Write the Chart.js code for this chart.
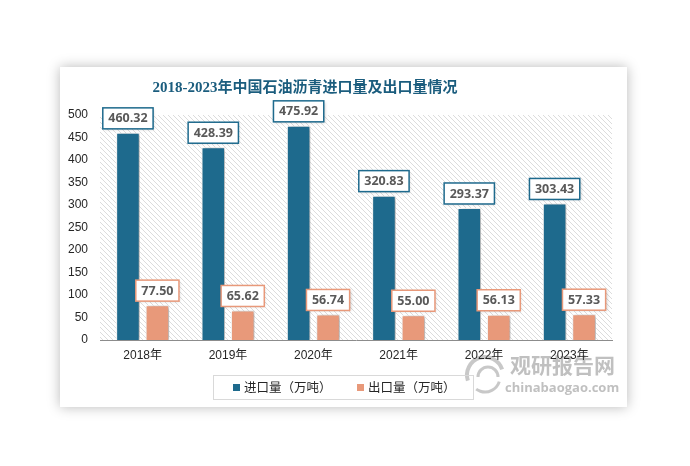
<!DOCTYPE html>
<html lang="zh">
<head>
<meta charset="UTF-8">
<title>2018-2023年中国石油沥青进口量及出口量情况</title>
<script src="https://cdn.jsdelivr.net/npm/chart.js"></script>
<style>
    html, body { margin: 0; padding: 0; background: #ffffff; }
    body { width: 690px; height: 466px; position: relative; overflow: hidden; }
    .card {
        position: absolute; left: 60px; top: 67px; width: 567px; height: 340px;
        background: #fff; box-shadow: 0 0 12px rgba(0,0,0,0.28);
    }
</style>
</head>
<body>
<div class="card"><canvas id="chart"></canvas></div>
<script>
const years = ['2018年', '2019年', '2020年', '2021年', '2022年', '2023年'];
const importVol = [460.32, 428.39, 475.92, 320.83, 293.37, 303.43];
const exportVol = [77.50, 65.62, 56.74, 55.00, 56.13, 57.33];
const seriesNames = ['进口量（万吨）', '出口量（万吨）'];
const titleText = '2018-2023年中国石油沥青进口量及出口量情况';

const blue = '#1e6a8d';
const orange = '#e8997a';

// diagonal hatch for the plot area
function hatchPattern(ctx) {
    const c = document.createElement('canvas');
    c.width = 5; c.height = 5;
    const p = c.getContext('2d');
    p.strokeStyle = '#dcdcdc';
    p.lineWidth = 1;
    p.beginPath();
    p.moveTo(-1, -1); p.lineTo(6, 6);
    p.moveTo(-1, 4); p.lineTo(1, 6);
    p.moveTo(4, -1); p.lineTo(6, 1);
    p.stroke();
    return ctx.createPattern(c, 'repeat');
}

const backdrop = {
    id: 'backdrop',
    beforeDraw(chart) {
        const { ctx, chartArea: a } = chart;
        ctx.save();
        ctx.fillStyle = hatchPattern(ctx);
        ctx.fillRect(a.left, a.top, a.right - a.left, a.bottom - a.top);

        // title
        ctx.fillStyle = '#1b5d7e';
        ctx.font = "bold 15px 'Liberation Serif', 'Noto Sans CJK SC', serif";
        ctx.textAlign = 'center';
        ctx.textBaseline = 'middle';
        ctx.fillText(titleText, 245, 21);

        // watermark
        ctx.globalAlpha = 0.55;
        ctx.fillStyle = '#8c8c8c';
        ctx.font = "bold 21px 'Noto Sans CJK SC'";
        ctx.textAlign = 'left';
        ctx.fillText('观研报告网', 450, 298);
        ctx.font = "bold 13px 'Open Sans'";
        ctx.fillText('chinabaogao.com', 445, 321);
        ctx.strokeStyle = '#9a9a9a';
        ctx.lineWidth = 4;
        ctx.beginPath(); ctx.arc(425, 308, 18, Math.PI * 0.9, Math.PI * 1.9); ctx.stroke();
        ctx.lineWidth = 3;
        ctx.beginPath(); ctx.arc(428, 310, 10, Math.PI * 1.0, Math.PI * 2.0); ctx.stroke();
        ctx.beginPath(); ctx.arc(425, 310, 15, Math.PI * 0.1, Math.PI * 0.7); ctx.stroke();
        ctx.restore();
    },
    beforeDatasetDraw(chart) {
        const ctx = chart.ctx;
        ctx.save();
        ctx.shadowColor = 'rgba(0,0,0,0.35)';
        ctx.shadowBlur = 4;
        ctx.shadowOffsetX = 2;
        ctx.shadowOffsetY = 1;
    },
    afterDatasetDraw(chart) {
        chart.ctx.restore();
    },
    afterDatasetsDraw(chart) {
        const ctx = chart.ctx;
        ctx.save();
        ctx.font = "bold 12.5px 'Open Sans', 'Liberation Sans', sans-serif";
        ctx.textAlign = 'center';
        ctx.textBaseline = 'middle';
        chart.data.datasets.forEach((ds, i) => {
            chart.getDatasetMeta(i).data.forEach((bar, j) => {
                const txt = ds.data[j].toFixed(2);
                const w = ctx.measureText(txt).width + 11;
                const h = 21;
                const x = bar.x - w / 2;
                const y = bar.y - 4 - h;
                ctx.save();
                ctx.shadowColor = 'rgba(0,0,0,0.2)';
                ctx.shadowBlur = 3;
                ctx.shadowOffsetX = 1;
                ctx.shadowOffsetY = 1;
                ctx.fillStyle = '#fff';
                ctx.fillRect(x, y, w, h);
                ctx.restore();
                ctx.strokeStyle = ds.backgroundColor;
                ctx.lineWidth = 1.5;
                ctx.strokeRect(x, y, w, h);
                ctx.fillStyle = '#595959';
                ctx.fillText(txt, bar.x, y + h / 2 + 0.5);
            });
        });
        ctx.restore();
    },
    afterDraw(chart) {
        // legend box
        const ctx = chart.ctx;
        ctx.save();
        ctx.strokeStyle = '#d9d9d9';
        ctx.lineWidth = 1;
        ctx.strokeRect(153.5, 308.5, 260, 24);
        ctx.font = "12.5px 'Noto Sans CJK SC'";
        ctx.textBaseline = 'middle';
        ctx.textAlign = 'left';
        const xs = [173, 297];
        chart.data.datasets.forEach((ds, i) => {
            ctx.fillStyle = ds.backgroundColor;
            ctx.fillRect(xs[i], 317, 7, 7);
            ctx.fillStyle = '#262626';
            ctx.fillText(ds.label, xs[i] + 11, 320.5);
        });
        ctx.restore();
    }
};

new Chart(document.getElementById('chart'), {
    type: 'bar',
    data: {
        labels: years,
        datasets: [
            { label: seriesNames[0], data: importVol, backgroundColor: blue },
            { label: seriesNames[1], data: exportVol, backgroundColor: orange }
        ]
    },
    options: {
        responsive: true,
        maintainAspectRatio: false,
        animation: false,
        layout: { padding: { left: 0, top: 48, right: 15, bottom: 43 } },
        datasets: {
            bar: {
                categoryPercentage: 0.69,
                barPercentage: 0.8,
                borderColor: '#ffffff',
                borderWidth: 1
            }
        },
        plugins: {
            legend: { display: false },
            title: { display: false },
            tooltip: { enabled: false }
        },
        scales: {
            x: {
                grid: { display: false, drawTicks: false },
                border: { display: true, color: '#8c8c8c', width: 1 },
                ticks: {
                    padding: 8,
                    color: '#262626',
                    font: { size: 12, family: "'Liberation Sans', 'Noto Sans CJK SC'" }
                },
                afterFit(scale) { scale.height = 24; }
            },
            y: {
                min: 0,
                max: 500,
                grid: { display: false, drawTicks: false },
                border: { display: false },
                ticks: {
                    stepSize: 50,
                    padding: 12,
                    color: '#262626',
                    font: { size: 12, family: "'Liberation Sans', sans-serif" }
                },
                afterFit(scale) { scale.width = 40; }
            }
        }
    },
    plugins: [backdrop]
});
</script>
</body>
</html>
